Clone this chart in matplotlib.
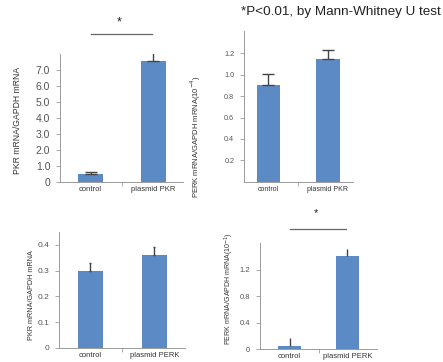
import matplotlib
matplotlib.use("Agg")
import matplotlib.pyplot as plt

plt.rcParams['font.family'] = ['Liberation Sans', 'DejaVu Sans']

# Data
groups_pkr = ["control", "plasmid PKR"]
groups_perk = ["control", "plasmid PERK"]

pkr_by_pkr = [0.50, 7.55]
pkr_by_pkr_err = [0.15, 0.80]

perk_by_pkr = [0.90, 1.145]
perk_by_pkr_err = [0.105, 0.085]

pkr_by_perk = [0.298, 0.36]
pkr_by_perk_err = [0.032, 0.030]

perk_by_perk = [0.05, 1.42]
perk_by_perk_err = [0.11, 0.10]

bar_color = "#5b8ac4"
grey = "#555555"
spine = "#9a9a9a"

W, H = 443, 362
fig = plt.figure(figsize=(W / 100, H / 100), dpi=100)


def px_axes(l, r, b, t):
    return fig.add_axes([l / W, 1 - b / H, (r - l) / W, (b - t) / H])


def panel(ax, labels, vals, errs, xlim, ylim, yticks, yticklabels,
          ylabel, tick_fs, xl_fs, yl_fs, label_xy, width, cap):
    x = list(range(len(vals)))
    ax.bar(x, vals, width=width, color=bar_color, zorder=2)
    ax.errorbar(x, vals, yerr=[[0] * len(errs), errs], fmt="none",
                ecolor="#444444", elinewidth=1.0, capsize=cap, capthick=1.0,
                zorder=3)
    ax.set_xlim(*xlim)
    ax.set_ylim(*ylim)
    ax.set_yticks(yticks)
    ax.set_yticklabels(yticklabels, fontsize=tick_fs, color=grey)
    ax.set_xticks(x)
    ax.set_xticklabels(labels, fontsize=xl_fs, color="#333333")
    ax.tick_params(axis="x", length=0, pad=3)
    ax.tick_params(axis="y", length=3, width=0.6, color=spine, pad=4)
    ax.set_xticks([0.5], minor=True)
    ax.tick_params(axis="x", which="minor", length=3, width=0.6, color=spine)
    for s in ("top", "right"):
        ax.spines[s].set_visible(False)
    for s in ("left", "bottom"):
        ax.spines[s].set_color(spine)
        ax.spines[s].set_linewidth(0.7)
    ax.set_ylabel(ylabel, fontsize=yl_fs, color="#333333")
    ax.yaxis.set_label_coords(*label_xy)


# top-left
ax1 = px_axes(60, 183, 182, 54)
panel(ax1, groups_pkr, pkr_by_pkr, pkr_by_pkr_err, (-0.49, 1.48), (0, 8.0),
      [0, 1, 2, 3, 4, 5, 6, 7], ["0", "1.0", "2.0", "3.0", "4.0", "5.0", "6.0", "7.0"],
      "PKR mRNA/GAPDH mRNA", 7.5, 5.5, 6.2, (-0.31, 0.48), 0.4, 4)
ax1.plot([0, 0.98], [9.25, 9.25], color="#666666", lw=0.9, clip_on=False)
ax1.text(0.45, 10.0, "*", ha="center", va="center", fontsize=9, color="#222222")

# top-right
ax2 = px_axes(244, 353, 181.6, 31)
panel(ax2, groups_pkr, perk_by_pkr, perk_by_pkr_err, (-0.41, 1.42), (0, 1.41),
      [0.2, 0.4, 0.6, 0.8, 1.0, 1.2], ["0.2", "0.4", "0.6", "0.8", "1.0", "1.2"],
      "PERK mRNA/GAPDH mRNA(10$^{-4}$)", 5.2, 5.0, 5.5, (-0.375, 0.30), 0.39, 4)

# bottom-left
ax3 = px_axes(59, 185, 348, 232)
panel(ax3, groups_perk, pkr_by_perk, pkr_by_perk_err, (-0.49, 1.48), (0, 0.45),
      [0, 0.1, 0.2, 0.3, 0.4], ["0", "0.1", "0.2", "0.3", "0.4"],
      "PKR mRNA/GAPDH mRNA", 6.0, 5.5, 5.2, (-0.19, 0.46), 0.39, 1)

# bottom-right
ax4 = px_axes(260, 377, 349, 243)
panel(ax4, groups_perk, perk_by_perk, perk_by_perk_err, (-0.51, 1.51), (0, 1.61),
      [0, 0.4, 0.8, 1.2], ["0", "0.4", "0.8", "1.2"],
      "PERK mRNA/GAPDH mRNA(10$^{-1}$)", 5.5, 5.5, 5.0, (-0.205, 0.57), 0.4, 0)
ax4.plot([0, 0.97], [1.82, 1.82], color="#666666", lw=0.9, clip_on=False)
ax4.text(0.45, 2.07, "*", ha="center", va="center", fontsize=8, color="#222222")

fig.text(0.995, 1 - 12 / H, "*P<0.01, by Mann-Whitney U test", ha="right",
         va="center", fontsize=9.7, color="#222222")

fig.savefig("out.png", dpi=100)
